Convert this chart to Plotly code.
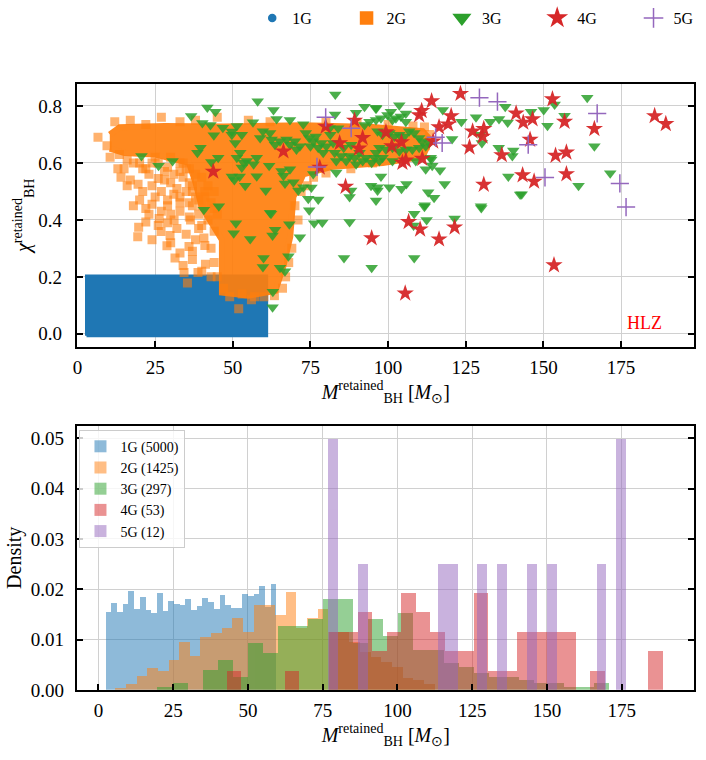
import plotly.graph_objects as go

# ---------------- data ----------------
gens = ["1G", "2G", "3G", "4G", "5G"]
colors = ["#1f77b4", "#ff7f0e", "#2ca02c", "#d62728", "#9467bd"]
counts = [5000, 1425, 297, 53, 12]

# 1G: dense uniform block (extent)
g1_mass_range = [2.9, 60.9]
g1_spin_range = [-0.007, 0.203]

# 2G: outline of the dense (saturated) part of the cloud
g2_core_mass = [10.4, 13.6, 28.0, 47.1, 72.7, 95.1, 111.1, 113.6, 111.1, 98.3, 82.3, 72.7, 69.5,
                68.5, 66.3, 63.7, 55.1, 46.5, 46.5, 40.0, 38.0, 35.9, 24.7, 15.1, 10.4]
g2_core_spin = [0.70, 0.725, 0.73, 0.728, 0.732, 0.726, 0.712, 0.681, 0.622, 0.60, 0.587, 0.56, 0.48,
                0.341, 0.237, 0.151, 0.134, 0.145, 0.33, 0.445, 0.53, 0.6, 0.63, 0.635, 0.65]
# 2G: individual squares outside the saturated part
g2_mass = [6.6, 9.5, 10.5, 13.5, 12, 17, 22, 27, 33, 38, 16, 20, 25, 29, 33,
           14, 17, 19.5, 23, 26, 30, 34, 37, 20, 22, 24, 27, 29, 31, 33, 35, 38, 40, 27, 30, 33, 36, 39, 42,
           19.4, 19.7, 22, 26.3, 31.1, 36.4, 26.9, 29.8, 28.8, 35.9, 33, 31.4, 37, 40.7, 41.2, 34.3, 38.8,
           43, 44, 39, 35.4, 51.9,
           70, 71, 72, 69, 68, 67, 63.4, 66, 74,
           45, 55, 62, 80, 90, 100, 108, 111.7, 113.3, 112, 105, 95, 88, 80, 76,
           47, 49, 53, 57, 60, 45, 44, 56,
           36, 38, 40, 42, 44, 37, 39, 41, 43, 45, 36, 40, 44, 33, 35, 21, 24, 28, 31,
           15, 18, 22, 26, 30, 34, 24, 28, 32, 36, 21, 25, 29, 33, 37, 41, 23, 26, 29, 32, 35, 38, 41, 24,
           30, 34, 37, 43, 40, 18, 16, 13]
g2_spin = [0.69, 0.66, 0.62, 0.63, 0.745, 0.75, 0.735, 0.76, 0.745, 0.75, 0.61, 0.6, 0.62, 0.585, 0.6,
           0.55, 0.54, 0.525, 0.56, 0.545, 0.53, 0.55, 0.52, 0.47, 0.44, 0.455, 0.5, 0.47, 0.49, 0.46, 0.5,
           0.48, 0.45, 0.43, 0.42, 0.43, 0.41, 0.42, 0.4,
           0.341, 0.374, 0.393, 0.405, 0.4, 0.4, 0.359, 0.345, 0.309, 0.307, 0.284, 0.266, 0.261, 0.336,
           0.244, 0.215, 0.215, 0.3, 0.36, 0.37, 0.178, 0.088,
           0.45, 0.4, 0.5, 0.3, 0.25, 0.2, 0.134, 0.16, 0.52,
           0.76, 0.75, 0.745, 0.745, 0.74, 0.735, 0.73, 0.726, 0.7, 0.66, 0.62, 0.6, 0.58, 0.565, 0.55,
           0.16, 0.13, 0.14, 0.13, 0.13, 0.2, 0.25, 0.12,
           0.58, 0.56, 0.55, 0.52, 0.5, 0.5, 0.47, 0.5, 0.46, 0.42, 0.46, 0.38, 0.44, 0.57, 0.58, 0.58,
           0.6, 0.57, 0.56,
           0.58, 0.6, 0.58, 0.6, 0.62, 0.6, 0.52, 0.54, 0.51, 0.53, 0.5, 0.48, 0.45, 0.48, 0.45, 0.48,
           0.42, 0.38, 0.39, 0.37, 0.35, 0.33, 0.31, 0.33, 0.32, 0.24, 0.29, 0.2, 0.22, 0.45, 0.52, 0.58]

g3_mass = [36.6, 41.8, 44.4, 40.2, 42.8, 46.8, 49.7, 43.9, 39.6, 38.6, 20.6, 30.6, 26.1, 43.1, 45.3, 40.7, 45.5, 50.5,
           83, 58, 63.1, 64.1, 68.4, 56.5, 51.3, 72.7, 92.4, 96.1, 89.7, 82.9, 61.7, 65.7, 68.4, 49.7, 52.2, 54,
           57.7, 60.6, 66.3, 66.8, 69.5, 71.1, 72.7, 74.3, 77.5, 75.3, 62, 74.6, 75.9, 83.3, 94.5, 96.6, 88.1, 87.6, 96.1,
           52.9, 58.8, 59.7, 62.0, 62.5, 63.6, 65.2, 67.3, 68.4, 70.0, 70.5, 71.6, 73.5, 74.6, 75.0, 75.9, 76.7, 77.5,
           78.5, 79.1, 80.1, 81.2, 81.4, 82.3, 82.8, 83.3, 83.9, 84.9, 85.7, 86.5, 87.6, 88.1, 89.2, 89.7, 90.8, 91.8,
           92.4, 92.9, 94.0, 94.7, 95.6, 96.1, 97.2, 51.3, 52.4, 53.5, 54.5, 57.7, 49.7, 50.8, 52.9, 56.7,
           96.1, 103.6, 105.7, 117.6, 128.3, 123.6, 132.9, 135.7, 138.5, 137.7, 129.7, 130.2, 120.6, 135.6, 140.3,
           140, 138.7, 142.5, 129.9, 97.7, 105.9, 104.3, 100.4, 96.6, 112.9, 114.8, 111.8, 118.2, 116.7, 113.9, 108.4,
           96.1, 97.7, 99.8, 100.9, 101.4, 102.5, 104.1, 105.7, 96.6, 98.2, 100.4, 102.0, 103.6, 105.2, 106.8, 108.4,
           110.0, 111.0, 113.2, 97.2, 99.3, 101.4, 103.6, 105.7, 107.8, 110.0, 112.1, 113.7, 98.2, 101.4, 108.9,
           112.1, 114.2,
           164.1, 153.6, 146, 150.1, 156.8, 151.3, 166.4, 171.5, 161.3, 143,
           51, 50.3, 55.6, 62.3, 63.6, 62.8, 68.2, 71.6, 59.9, 59.7, 65.2, 66.8, 67.9, 62.9, 62.8,
           76.2, 78.8, 87.6, 85.8, 94.7, 111.7, 112.4, 108.2, 121.4, 130, 108.4]
g3_spin = [0.765, 0.795, 0.78, 0.74, 0.733, 0.724, 0.71, 0.697, 0.653, 0.636, 0.624, 0.607, 0.59, 0.603, 0.618,
           0.436, 0.448, 0.54,
           0.84, 0.817, 0.786, 0.754, 0.751, 0.743, 0.73, 0.736, 0.797, 0.794, 0.776, 0.77, 0.59, 0.572, 0.578,
           0.552, 0.552, 0.52, 0.553, 0.503, 0.555, 0.528, 0.532, 0.503, 0.515, 0.474, 0.472, 0.514, 0.425, 0.434,
           0.561, 0.566, 0.52, 0.503, 0.503, 0.48, 0.468,
           0.699, 0.688, 0.711, 0.705, 0.682, 0.664, 0.676, 0.682, 0.664, 0.676, 0.647, 0.659, 0.705, 0.688, 0.659,
           0.676, 0.693, 0.653, 0.670, 0.636, 0.659, 0.722, 0.699, 0.670, 0.636, 0.607, 0.722, 0.624, 0.653, 0.607,
           0.624, 0.664, 0.618, 0.595, 0.636, 0.607, 0.733, 0.618, 0.745, 0.601, 0.618, 0.636, 0.607, 0.618, 0.636,
           0.601, 0.607, 0.618, 0.699, 0.670, 0.584, 0.595,
           0.79, 0.803, 0.774, 0.786, 0.76, 0.745, 0.745, 0.754, 0.742, 0.797, 0.699, 0.67, 0.684, 0.653, 0.644,
           0.624, 0.552, 0.489, 0.448, 0.552, 0.526, 0.509, 0.515, 0.515, 0.497, 0.478, 0.451, 0.526, 0.574, 0.612,
           0.422,
           0.751, 0.757, 0.768, 0.780, 0.751, 0.757, 0.763, 0.745, 0.711, 0.699, 0.705, 0.693, 0.699, 0.693, 0.711,
           0.705, 0.688, 0.676, 0.670, 0.653, 0.647, 0.653, 0.641, 0.647, 0.647, 0.653, 0.659, 0.618, 0.618, 0.607,
           0.607, 0.578, 0.590,
           0.829, 0.805, 0.78, 0.786, 0.766, 0.731, 0.659, 0.564, 0.52, 0.49,
           0.388, 0.353, 0.333, 0.422, 0.365, 0.345, 0.385, 0.339, 0.266, 0.235, 0.232, 0.22, 0.272, 0.148, 0.093,
           0.388, 0.391, 0.393, 0.266, 0.232, 0.446, 0.4, 0.38, 0.405, 0.442, 0.266]

g4_mass = [43.7, 79.9, 89.2, 66.3, 84.4, 91.8, 90.6, 78, 86.3,
           123.3, 114, 110.8, 110, 120.3, 119.3, 116.4, 127.2, 130.8, 130.4, 141.2, 143.5, 126.2, 136.6, 114.5,
           99.3, 104.3, 101.2, 104.6, 105.7, 111, 130.8, 143.3, 145.7,
           152.9, 146.5, 156.8, 166.4, 185.8, 189.4, 153.9, 157.4, 147, 157.4,
           106.6, 110.3, 121.4, 116.4, 94.7, 153.4, 105.5]
g4_spin = [0.57, 0.728, 0.749, 0.641, 0.67, 0.688, 0.651, 0.584, 0.517,
           0.843, 0.817, 0.783, 0.768, 0.765, 0.736, 0.726, 0.711, 0.72, 0.693, 0.774, 0.742, 0.655, 0.628, 0.676,
           0.708, 0.673, 0.659, 0.601, 0.609, 0.615, 0.524, 0.557, 0.682,
           0.824, 0.754, 0.745, 0.72, 0.765, 0.737, 0.626, 0.637, 0.535, 0.561,
           0.393, 0.367, 0.374, 0.332, 0.336, 0.241, 0.142]

g5_mass = [79.9, 88.1, 77.1, 129.4, 135.2, 117.4, 115.3, 145.1, 167.3, 150.5, 174.6, 176.6]
g5_spin = [0.76, 0.722, 0.586, 0.829, 0.815, 0.67, 0.69, 0.664, 0.774, 0.549, 0.528, 0.445]

# histogram bins (first edge, width) and densities, 30 bins per generation
bin_start = [2.6, 5.8, 19.9, 43.1, 77.1]
bin_width = [1.903, 3.56, 5.036, 4.86, 3.32]
h1 = [0.01555, 0.01732, 0.01555, 0.01712, 0.01967, 0.01608, 0.01843, 0.01588, 0.01536, 0.01927,
      0.01568, 0.01771, 0.01712, 0.01692, 0.01804, 0.01588, 0.01673, 0.01823, 0.01751, 0.01608,
      0.01888, 0.01692, 0.01634, 0.01634, 0.01908, 0.01869, 0.01908, 0.02065, 0.01653, 0.02104]
h2 = [0.0004, 0.00125, 0.0029, 0.00445, 0.00386, 0.00595, 0.0095, 0.0067, 0.0105, 0.0114,
      0.0124, 0.0144, 0.0116, 0.0169, 0.0169, 0.0149, 0.0195, 0.0123, 0.0144, 0.0161,
      0.0115, 0.0115, 0.0095, 0.0075, 0.0065, 0.0055, 0.0045, 0.0025, 0.002, 0.0012]
h3 = [0.00067, 0.00134, 0.0, 0.00401, 0.00602, 0.00268, 0.00937, 0.00736, 0.01271, 0.01271,
      0.01405, 0.01806, 0.01806, 0.00937, 0.01405, 0.0107, 0.01539, 0.00803, 0.00803, 0.00535,
      0.00468, 0.00335, 0.00268, 0.00268, 0.00201, 0.00134, 0.00134, 0.00067, 0.00067, 0.00134]
h4 = [0.00388, 0, 0, 0, 0.00388, 0, 0, 0.01164, 0.01164, 0.01552,
      0.00776, 0.01164, 0.0194, 0.01552, 0.01164, 0.00776, 0.00776, 0.0194, 0.00388, 0.00388,
      0.01164, 0.01164, 0.01164, 0.01164, 0, 0.00388, 0, 0, 0, 0.00776]
h5 = [0.05, 0, 0, 0.025, 0, 0, 0, 0, 0, 0,
      0, 0.025, 0.025, 0, 0, 0.025, 0, 0.025, 0, 0,
      0.025, 0, 0.025, 0, 0, 0, 0, 0.025, 0, 0.05]
hists = [h1, h2, h3, h4, h5]

x_ticks = [0, 25, 50, 75, 100, 125, 150, 175]

# ---------------- figure ----------------
FONT = "Liberation Serif"
fig = go.Figure()

# --- top panel: scatter ---
fig.add_trace(go.Scatter(
    x=[g1_mass_range[0], g1_mass_range[1], g1_mass_range[1], g1_mass_range[0], g1_mass_range[0]],
    y=[g1_spin_range[0], g1_spin_range[0], g1_spin_range[1], g1_spin_range[1], g1_spin_range[0]],
    mode="lines", fill="toself", fillcolor=colors[0], line=dict(color=colors[0], width=3),
    showlegend=False, hoverinfo="skip", xaxis="x", yaxis="y"))
fig.add_trace(go.Scatter(
    x=g2_core_mass, y=g2_core_spin, mode="lines", fill="toself", fillcolor=colors[1],
    line=dict(color=colors[1], width=6), opacity=0.92, showlegend=False, hoverinfo="skip",
    xaxis="x", yaxis="y"))
fig.add_trace(go.Scatter(x=g2_mass, y=g2_spin, mode="markers",
                         marker=dict(symbol="square", size=9, color=colors[1], opacity=0.6, line=dict(width=0)),
                         showlegend=False, xaxis="x", yaxis="y"))
fig.add_trace(go.Scatter(x=g3_mass, y=g3_spin, mode="markers",
                         marker=dict(symbol="triangle-down", size=11, color=colors[2], opacity=0.85,
                                     line=dict(width=0)),
                         showlegend=False, xaxis="x", yaxis="y"))
fig.add_trace(go.Scatter(x=g4_mass, y=g4_spin, mode="markers",
                         marker=dict(symbol="star", size=13, color=colors[3], opacity=0.95, line=dict(width=0)),
                         showlegend=False, xaxis="x", yaxis="y"))
fig.add_trace(go.Scatter(x=g5_mass, y=g5_spin, mode="markers",
                         marker=dict(symbol="cross-thin", size=13, color=colors[4],
                                     line=dict(width=1.5, color=colors[4])),
                         showlegend=False, xaxis="x", yaxis="y"))

# legend-only entries for the top legend, one small legend per entry
leg_symbols = ["circle", "square", "triangle-down", "star", "cross-thin"]
leg_sizes = [7, 12, 14, 13, 14]
leg_names = ["legend", "legend3", "legend4", "legend5", "legend6"]
leg_xpx = [249, 344, 440, 536, 633]
for g, c, s, sz, ln in zip(gens, colors, leg_symbols, leg_sizes, leg_names):
    fig.add_trace(go.Scatter(x=[None], y=[None], mode="markers", name=g,
                             marker=dict(symbol=s, size=sz, color=c, line=dict(width=1.5, color=c)),
                             legend=ln, xaxis="x", yaxis="y"))

# --- bottom panel: histograms ---
for g, c, n, st, w, h in zip(gens, colors, counts, bin_start, bin_width, hists):
    centers = [st + w * (i + 0.5) for i in range(len(h))]
    fig.add_trace(go.Bar(x=centers, y=h, width=w, marker=dict(color=c, line=dict(width=0)),
                         opacity=0.5, name=f"{g} ({n})", legend="legend2",
                         xaxis="x2", yaxis="y2"))

axis_common = dict(showline=True, linecolor="black", linewidth=1.5, ticks="inside", ticklen=6,
                   tickwidth=1.5, tickcolor="black", showgrid=True, gridcolor="#d0d0d0", gridwidth=1,
                   zeroline=False, tickfont=dict(size=19, family=FONT, color="black"))

xdom = [73 / 706, 694 / 706]
xtitle = "<i>M</i><sup>retained</sup><sub>BH</sub> [<i>M</i><sub>⊙</sub>]"
legend_items = {}
for ln, xp in zip(leg_names, leg_xpx):
    legend_items[ln] = dict(orientation="h", x=xp / 706, y=1 - 1 / 760, xanchor="left", yanchor="top",
                            font=dict(size=16, family=FONT), bgcolor="rgba(0,0,0,0)")

fig.update_layout(
    width=706, height=760, margin=dict(l=0, r=0, t=0, b=0),
    plot_bgcolor="white", paper_bgcolor="white",
    font=dict(family=FONT, color="black"),
    barmode="overlay", bargap=0,
    xaxis=dict(domain=xdom, anchor="y", range=[0, 198.5], tickvals=x_ticks, mirror=True,
               ticklabelstandoff=3,
               title=dict(text=xtitle, font=dict(size=20), standoff=4), **axis_common),
    yaxis=dict(domain=[1 - 352 / 760, 1 - 85 / 760], anchor="x", range=[-0.046, 0.878],
               tickvals=[0, 0.2, 0.4, 0.6, 0.8], tickformat=".1f", mirror="ticks", ticklabelstandoff=10,
               title=dict(text="<i>χ</i><sup>retained</sup><sub>BH</sub>", font=dict(size=20), standoff=2),
               **axis_common),
    xaxis2=dict(domain=xdom, anchor="y2", range=[-7.0, 199.2], tickvals=x_ticks, mirror=True,
                ticklabelstandoff=3,
                title=dict(text=xtitle, font=dict(size=20), standoff=4), **axis_common),
    yaxis2=dict(domain=[1 - 700 / 760, 1 - 432 / 760], anchor="x2", range=[0, 0.0525],
                tickvals=[0, 0.01, 0.02, 0.03, 0.04, 0.05], tickformat=".2f", mirror="ticks",
                ticklabelstandoff=8,
                title=dict(text="Density", font=dict(size=20), standoff=4), **axis_common),
    legend2=dict(orientation="v", x=75 / 706, y=1 - 436 / 760, xanchor="left", yanchor="top",
                 font=dict(size=14, family=FONT), bgcolor="rgba(255,255,255,0.8)",
                 bordercolor="#cccccc", borderwidth=1, tracegroupgap=0, itemwidth=30),
    annotations=[dict(text="HLZ", x=182.5, y=0.037, xref="x", yref="y", showarrow=False,
                      font=dict(size=18, color="red", family=FONT))],
    **legend_items,
)

fig.write_html("out.html")
